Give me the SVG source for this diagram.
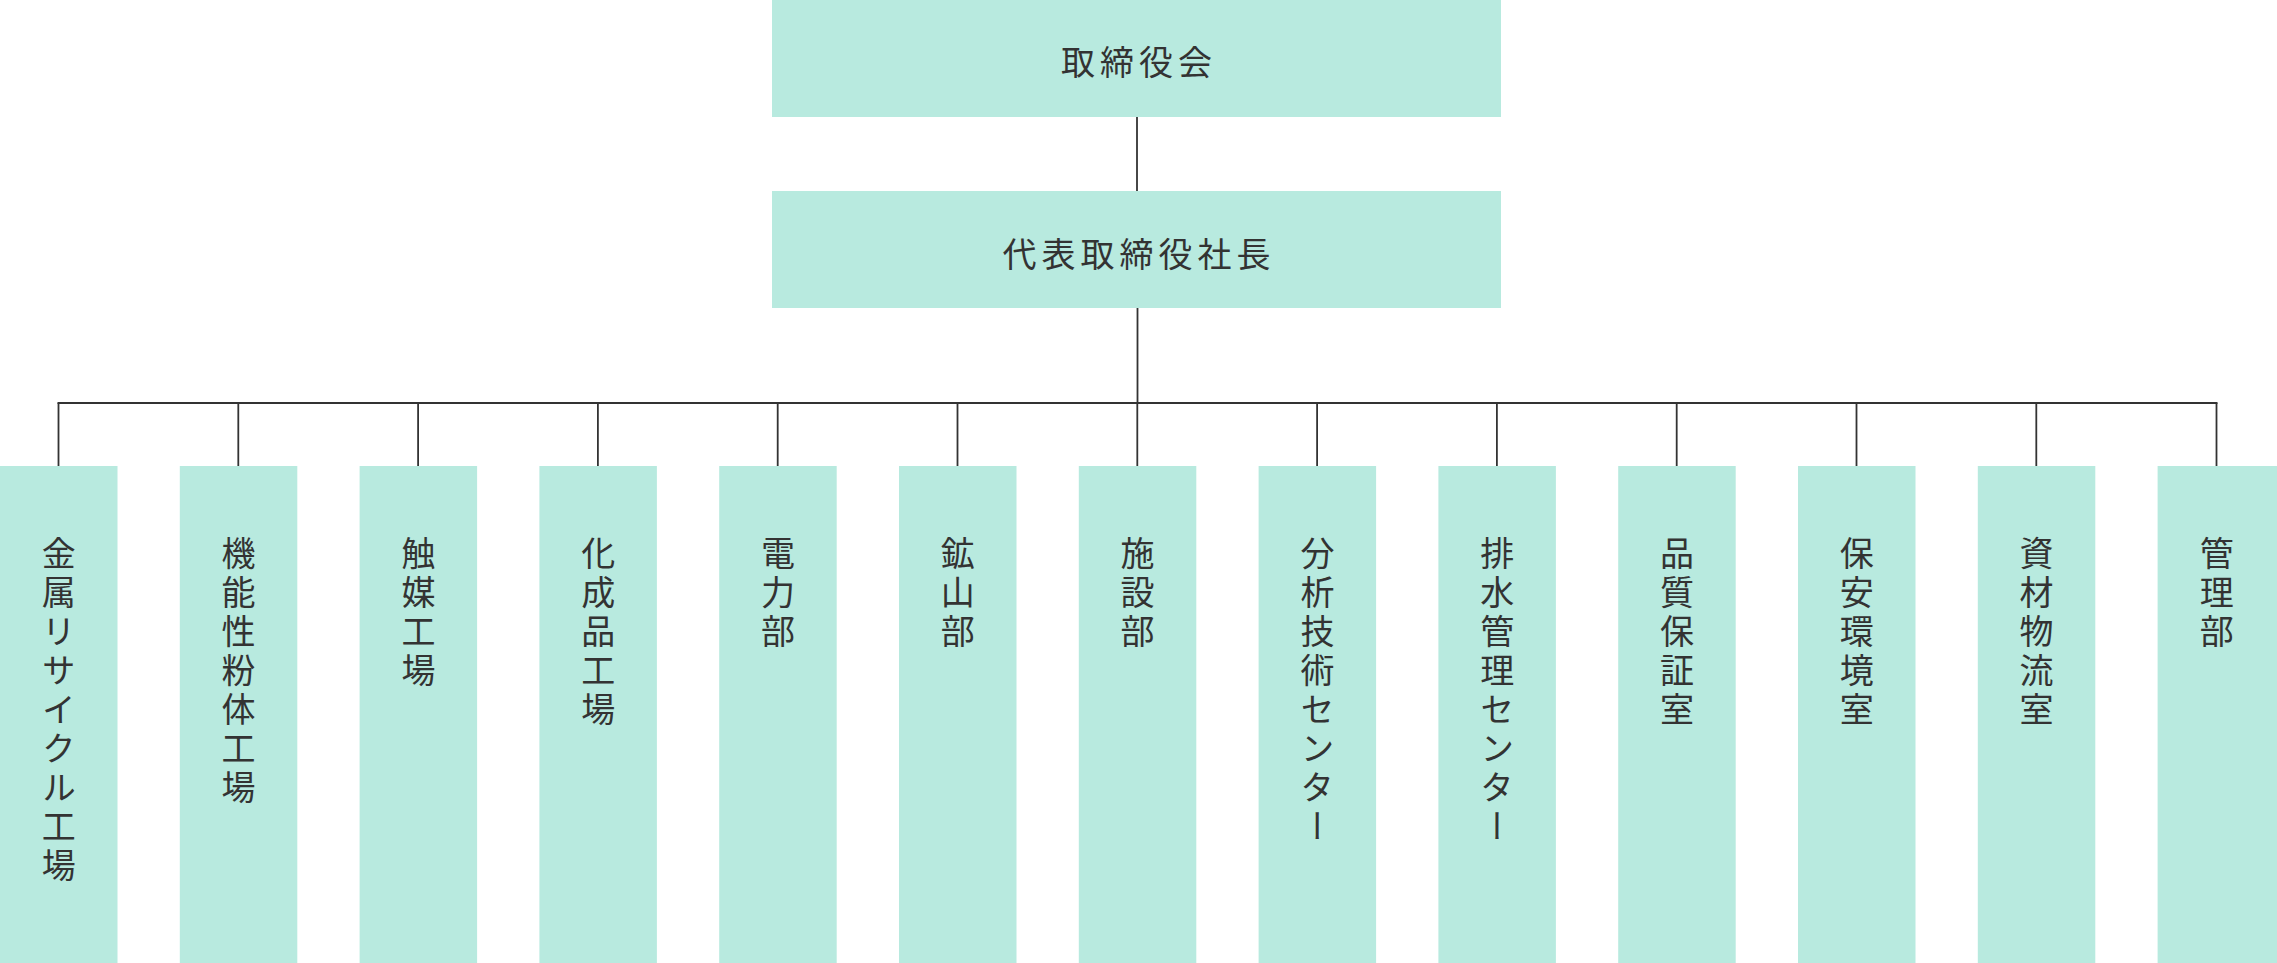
<svg xmlns="http://www.w3.org/2000/svg" width="2277" height="963" viewBox="0 0 2277 963">
<style>
.box{fill:#b8eadf}
.t{font-family:"Noto Sans CJK JP","Noto Sans CJK SC",sans-serif;font-size:34px;fill:#333;letter-spacing:5px}
.h{text-anchor:middle;dominant-baseline:central}
.v{writing-mode:vertical-rl;text-orientation:upright}
.ln{stroke:#333;stroke-width:1.8;fill:none}
</style>
<rect width="2277" height="963" fill="#fff"/>
<g id="connectors">
<line class="ln" x1="1137" y1="117" x2="1137" y2="191"/>
<line class="ln" x1="1137.5" y1="308" x2="1137.5" y2="403"/>
<line class="ln" x1="57.5" y1="403" x2="2217.5" y2="403"/>
<line class="ln" x1="58.5" y1="403" x2="58.5" y2="466"/>
<line class="ln" x1="238.3" y1="403" x2="238.3" y2="466"/>
<line class="ln" x1="418.1" y1="403" x2="418.1" y2="466"/>
<line class="ln" x1="597.9" y1="403" x2="597.9" y2="466"/>
<line class="ln" x1="777.7" y1="403" x2="777.7" y2="466"/>
<line class="ln" x1="957.5" y1="403" x2="957.5" y2="466"/>
<line class="ln" x1="1137.3" y1="403" x2="1137.3" y2="466"/>
<line class="ln" x1="1317.1" y1="403" x2="1317.1" y2="466"/>
<line class="ln" x1="1496.9" y1="403" x2="1496.9" y2="466"/>
<line class="ln" x1="1676.7" y1="403" x2="1676.7" y2="466"/>
<line class="ln" x1="1856.5" y1="403" x2="1856.5" y2="466"/>
<line class="ln" x1="2036.3" y1="403" x2="2036.3" y2="466"/>
<line class="ln" x1="2216.5" y1="403" x2="2216.5" y2="466"/>
</g>
<g id="board"><rect class="box" x="772" y="0" width="729" height="117"/><text class="t h" x="1139" y="60">取締役会</text></g>
<g id="president"><rect class="box" x="772" y="191" width="729" height="117"/><text class="t h" x="1139" y="252.5">代表取締役社長</text></g>
<g id="n1"><rect class="box" x="0" y="466" width="117.5" height="497"/><text class="t v" x="58.8" y="536">金属リサイクル工場</text></g>
<g id="n2"><rect class="box" x="179.8" y="466" width="117.5" height="497"/><text class="t v" x="238.6" y="536">機能性粉体工場</text></g>
<g id="n3"><rect class="box" x="359.6" y="466" width="117.5" height="497"/><text class="t v" x="418.4" y="536">触媒工場</text></g>
<g id="n4"><rect class="box" x="539.4" y="466" width="117.5" height="497"/><text class="t v" x="598.2" y="536">化成品工場</text></g>
<g id="n5"><rect class="box" x="719.2" y="466" width="117.5" height="497"/><text class="t v" x="778" y="536">電力部</text></g>
<g id="n6"><rect class="box" x="899" y="466" width="117.5" height="497"/><text class="t v" x="957.8" y="536">鉱山部</text></g>
<g id="n7"><rect class="box" x="1078.8" y="466" width="117.5" height="497"/><text class="t v" x="1137.6" y="536">施設部</text></g>
<g id="n8"><rect class="box" x="1258.6" y="466" width="117.5" height="497"/><text class="t v" x="1317.4" y="536">分析技術センター</text></g>
<g id="n9"><rect class="box" x="1438.4" y="466" width="117.5" height="497"/><text class="t v" x="1497.2" y="536">排水管理センター</text></g>
<g id="n10"><rect class="box" x="1618.2" y="466" width="117.5" height="497"/><text class="t v" x="1677" y="536">品質保証室</text></g>
<g id="n11"><rect class="box" x="1798" y="466" width="117.5" height="497"/><text class="t v" x="1856.8" y="536">保安環境室</text></g>
<g id="n12"><rect class="box" x="1977.8" y="466" width="117.5" height="497"/><text class="t v" x="2036.6" y="536">資材物流室</text></g>
<g id="n13"><rect class="box" x="2157.6" y="466" width="119.4" height="497"/><text class="t v" x="2216.8" y="536">管理部</text></g>
</svg>
